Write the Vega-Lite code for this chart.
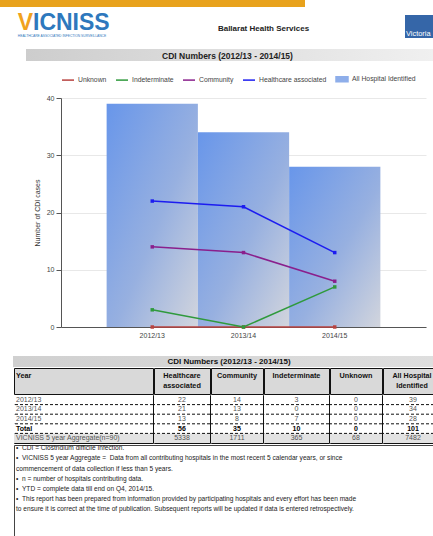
{
  "$schema": "https://vega.github.io/schema/vega-lite/v6.json",
  "background": "white",
  "padding": 0,
  "config": {"font": "Liberation Sans", "view": {"stroke": null}, "concat": {"spacing": 0}},
  "resolve": {"scale": {"color": "independent"}, "legend": {"color": "independent"}},
  "datasets": {
    "header": [
      {"part": "logoV", "label": "V"},
      {"part": "logoRest", "label": "ICNISS"},
      {"part": "tagline", "label": "HEALTHCARE ASSOCIATED INFECTION SURVEILLANCE"},
      {"part": "org", "label": "Ballarat Health Services"},
      {"part": "gov", "label": "Victoria"}
    ],
    "titles": [
      {"part": "chart", "label": "CDI Numbers (2012/13 - 2014/15)"},
      {"part": "table", "label": "CDI Numbers (2012/13 - 2014/15)"}
    ],
    "bars": [
      {"year": "2012/13", "total": 39},
      {"year": "2013/14", "total": 34},
      {"year": "2014/15", "total": 28}
    ],
    "lines": [
      {"year": "2012/13", "series": "Unknown", "value": 0},
      {"year": "2013/14", "series": "Unknown", "value": 0},
      {"year": "2014/15", "series": "Unknown", "value": 0},
      {"year": "2012/13", "series": "Indeterminate", "value": 3},
      {"year": "2013/14", "series": "Indeterminate", "value": 0},
      {"year": "2014/15", "series": "Indeterminate", "value": 7},
      {"year": "2012/13", "series": "Community", "value": 14},
      {"year": "2013/14", "series": "Community", "value": 13},
      {"year": "2014/15", "series": "Community", "value": 8},
      {"year": "2012/13", "series": "Healthcare associated", "value": 22},
      {"year": "2013/14", "series": "Healthcare associated", "value": 21},
      {"year": "2014/15", "series": "Healthcare associated", "value": 13}
    ],
    "headers": [
      {"key": "Year", "label": "Year"},
      {"key": "HCA", "label": "Healthcare\nassociated"},
      {"key": "Community", "label": "Community"},
      {"key": "Indeterminate", "label": "Indeterminate"},
      {"key": "Unknown", "label": "Unknown"},
      {"key": "All", "label": "All Hospital\nIdentified"}
    ],
    "table": [
      {"Year": "2012/13", "HCA": 22, "Community": 14, "Indeterminate": 3, "Unknown": 0, "All": 39},
      {"Year": "2013/14", "HCA": 21, "Community": 13, "Indeterminate": 0, "Unknown": 0, "All": 34},
      {"Year": "2014/15", "HCA": 13, "Community": 8, "Indeterminate": 7, "Unknown": 0, "All": 28},
      {"Year": "Total", "HCA": 56, "Community": 35, "Indeterminate": 10, "Unknown": 0, "All": 101},
      {"Year": "VICNISS 5 year Aggregate(n=90)", "HCA": 5338, "Community": 1711, "Indeterminate": 365, "Unknown": 68, "All": 7482}
    ],
    "notes": [
      {"line": 1, "text": "\u00a0\u00a0\u00a0\u00a0•\u00a0\u00a0CDI = Clostridium difficile Infection."},
      {"line": 2, "text": "\u00a0\u00a0\u00a0\u00a0•\u00a0\u00a0VICNISS 5 year Aggregate =\u00a0\u00a0Data from all contributing hospitals in the most recent 5 calendar years, or since"},
      {"line": 3, "text": "commencement of data collection if less than 5 years."},
      {"line": 4, "text": "\u00a0\u00a0\u00a0\u00a0•\u00a0\u00a0n = number of hospitals contributing data."},
      {"line": 5, "text": "\u00a0\u00a0\u00a0\u00a0•\u00a0\u00a0YTD = complete data till end on Q4, 2014/15."},
      {"line": 6, "text": "\u00a0\u00a0\u00a0\u00a0•\u00a0\u00a0This report has been prepared from information provided by participating hospitals and every effort has been made"},
      {"line": 7, "text": "to ensure it is correct at the time of publication. Subsequent reports will be updated if data is entered retrospectively."}
    ]
  },
  "spacing": 0,
  "vconcat": [
    {"width": 305, "height": 7, "data": {"values": [{}]}, "mark": {"type": "rect", "color": "#e8a21c"}},
    {
      "spacing": 0,
      "hconcat": [
        {
          "width": 122, "height": 42, "data": {"name": "header"},
          "layer": [
            {"transform": [{"filter": "datum.part === 'logoV'"}], "mark": {"type": "text", "align": "right", "baseline": "middle", "dx": -28, "dy": -5, "fontSize": 23, "fontWeight": "bold", "color": "#f0a21e", "clip": true}, "encoding": {"text": {"field": "label", "type": "nominal"}}},
            {"transform": [{"filter": "datum.part === 'logoRest'"}], "mark": {"type": "text", "align": "left", "baseline": "middle", "dx": -28, "dy": -5, "fontSize": 23, "fontWeight": "bold", "color": "#2e78bd", "clip": true}, "encoding": {"text": {"field": "label", "type": "nominal"}}},
            {"transform": [{"filter": "datum.part === 'tagline'"}], "mark": {"type": "text", "baseline": "middle", "dy": 8, "dx": 1, "fontSize": 3.3, "color": "#2e78bd", "clip": true}, "encoding": {"text": {"field": "label", "type": "nominal"}}}
          ]
        },
        {
          "width": 283, "height": 42, "data": {"name": "header"},
          "transform": [{"filter": "datum.part === 'org'"}],
          "mark": {"type": "text", "fontWeight": "bold", "fontSize": 8, "dy": 1, "color": "#222"},
          "encoding": {"text": {"field": "label", "type": "nominal"}}
        },
        {
          "spacing": 0,
          "vconcat": [
            {"width": 28, "height": 8, "data": {"values": [{}]}, "mark": {"type": "rect", "opacity": 0}},
            {
              "width": 28, "height": 23, "data": {"name": "header"},
              "transform": [{"filter": "datum.part === 'gov'"}],
              "layer": [
                {"mark": {"type": "rect", "color": "#3566a8"}},
                {"mark": {"type": "text", "align": "left", "baseline": "alphabetic", "dx": -13, "dy": 9, "fontSize": 7.4, "color": "white", "clip": true}, "encoding": {"text": {"field": "label", "type": "nominal"}}}
              ]
            }
          ]
        }
      ]
    },
    {
      "spacing": 0,
      "hconcat": [
        {"width": 26, "height": 12, "data": {"values": [{}]}, "mark": {"type": "rect", "opacity": 0}},
        {
          "width": 407, "height": 12, "data": {"name": "titles"},
          "transform": [{"filter": "datum.part === 'chart'"}],
          "layer": [
            {"mark": {"type": "rect", "color": {"gradient": "linear", "x1": 0, "y1": 0, "x2": 1, "y2": 0, "stops": [{"offset": 0, "color": "#cdcdcd"}, {"offset": 1, "color": "#f0f0f0"}]}}},
            {"mark": {"type": "text", "fontWeight": "bold", "fontSize": 8.5, "color": "#222", "dx": -2, "dy": 0.5}, "encoding": {"text": {"field": "label", "type": "nominal"}}}
          ]
        }
      ]
    },
    {"width": 1, "height": 11, "data": {"values": [{}]}, "mark": {"type": "rect", "opacity": 0}},
    {
      "spacing": 0,
      "resolve": {"scale": {"color": "independent"}, "legend": {"color": "independent"}},
      "hconcat": [
        {"width": 33, "height": 1, "data": {"values": [{}]}, "mark": {"type": "rect", "opacity": 0}},
        {
          "width": 365, "height": 229,
          "layer": [
            {
              "data": {"name": "bars"},
              "mark": {"type": "bar", "color": {"gradient": "linear", "x1": 0, "y1": 0, "x2": 1, "y2": 1, "stops": [{"offset": 0, "color": "#6896ea"}, {"offset": 0.55, "color": "#97b0e0"}, {"offset": 1, "color": "#d2d5dd"}]}},
              "encoding": {
                "x": {"field": "year", "type": "nominal", "title": null, "scale": {"paddingInner": 0, "paddingOuter": 0.5}, "axis": {"labelAngle": 0, "labelFontSize": 7, "labelColor": "#444", "ticks": false, "domainColor": "#555", "labelPadding": 4}},
                "y": {"field": "total", "type": "quantitative", "title": "Number of CDI cases", "scale": {"domain": [0, 40]}, "axis": {"values": [0, 10, 20, 30, 40], "labelFontSize": 7, "labelColor": "#444", "titleFontSize": 7, "titleFontWeight": "normal", "titleColor": "#333", "titlePadding": 6, "labelPadding": 2, "gridColor": "#e8e8e8", "domainColor": "#555", "tickColor": "#555", "tickSize": 5}}
              }
            },
            {
              "data": {"name": "lines"},
              "mark": {"type": "line", "strokeWidth": 1.5, "point": {"filled": true, "shape": "square", "size": 12}},
              "encoding": {
                "x": {"field": "year", "type": "nominal"},
                "y": {"field": "value", "type": "quantitative"},
                "color": {
                  "field": "series", "type": "nominal",
                  "scale": {"domain": ["Unknown", "Indeterminate", "Community", "Healthcare associated", "All Hospital Identified"], "range": ["#b8423f", "#2f9a3c", "#8a1f8c", "#1c1cf0", "#8eaeea"]},
                  "legend": {
                    "orient": "top", "direction": "horizontal", "title": null,
                    "labelFontSize": 6.8, "labelColor": "#444", "symbolSize": 144, "symbolStrokeWidth": 1.5,
                    "labelOffset": 3, "columnPadding": 6, "offset": 13,
                    "encode": {"symbols": {"update": {
                      "shape": {"signal": "datum.value === 'All Hospital Identified' ? 'M-1,-0.42H1V0.42H-1Z' : 'stroke'"},
                      "fill": {"signal": "datum.value === 'All Hospital Identified' ? '#8eaeea' : 'transparent'"}
                    }}}
                  }
                }
              }
            }
          ]
        }
      ]
    },
    {"width": 1, "height": 18, "data": {"values": [{}]}, "mark": {"type": "rect", "opacity": 0}},
    {
      "spacing": 0,
      "hconcat": [
        {"width": 13, "height": 11, "data": {"values": [{}]}, "mark": {"type": "rect", "opacity": 0}},
        {
          "width": 420, "height": 11, "data": {"name": "titles"},
          "transform": [{"filter": "datum.part === 'table'"}],
          "layer": [
            {"mark": {"type": "rect", "color": {"gradient": "linear", "x1": 0, "y1": 0, "x2": 1, "y2": 0, "stops": [{"offset": 0, "color": "#d0d0d0"}, {"offset": 1, "color": "#dedede"}]}}},
            {"mark": {"type": "text", "fontWeight": "bold", "fontSize": 8, "color": "#111", "dx": 6, "dy": 0.5}, "encoding": {"text": {"field": "label", "type": "nominal"}}}
          ]
        }
      ]
    },
    {
      "spacing": -2,
      "vconcat": [
        {
          "spacing": -2,
          "hconcat": [
            {"width": 14, "height": 26, "data": {"values": [{}]}, "mark": {"type": "rect", "opacity": 0}},
            {"width": 139, "height": 26, "data": {"name": "headers"}, "transform": [{"filter": "datum.key === 'Year'"}], "view": {"stroke": "#111", "fill": "#d9d9d9"}, "mark": {"type": "text", "align": "left", "baseline": "top", "dx": -67.5, "dy": -9, "fontSize": 7.3, "fontWeight": "bold", "color": "#111", "lineBreak": "\n", "lineHeight": 10}, "encoding": {"text": {"field": "label", "type": "nominal"}}},
            {"width": 56, "height": 26, "data": {"name": "headers"}, "transform": [{"filter": "datum.key === 'HCA'"}], "view": {"stroke": "#111", "fill": "#d9d9d9"}, "mark": {"type": "text", "baseline": "top", "dy": -9, "fontSize": 7.3, "fontWeight": "bold", "color": "#111", "lineBreak": "\n", "lineHeight": 10}, "encoding": {"text": {"field": "label", "type": "nominal"}}},
            {"width": 52, "height": 26, "data": {"name": "headers"}, "transform": [{"filter": "datum.key === 'Community'"}], "view": {"stroke": "#111", "fill": "#d9d9d9"}, "mark": {"type": "text", "baseline": "top", "dy": -9, "fontSize": 7.3, "fontWeight": "bold", "color": "#111", "lineBreak": "\n", "lineHeight": 10}, "encoding": {"text": {"field": "label", "type": "nominal"}}},
            {"width": 65, "height": 26, "data": {"name": "headers"}, "transform": [{"filter": "datum.key === 'Indeterminate'"}], "view": {"stroke": "#111", "fill": "#d9d9d9"}, "mark": {"type": "text", "baseline": "top", "dy": -9, "fontSize": 7.3, "fontWeight": "bold", "color": "#111", "lineBreak": "\n", "lineHeight": 10}, "encoding": {"text": {"field": "label", "type": "nominal"}}},
            {"width": 52, "height": 26, "data": {"name": "headers"}, "transform": [{"filter": "datum.key === 'Unknown'"}], "view": {"stroke": "#111", "fill": "#d9d9d9"}, "mark": {"type": "text", "baseline": "top", "dy": -9, "fontSize": 7.3, "fontWeight": "bold", "color": "#111", "lineBreak": "\n", "lineHeight": 10}, "encoding": {"text": {"field": "label", "type": "nominal"}}},
            {"width": 56, "height": 26, "data": {"name": "headers"}, "transform": [{"filter": "datum.key === 'All'"}], "view": {"stroke": "#111", "fill": "#d9d9d9"}, "mark": {"type": "text", "baseline": "top", "dy": -9, "dx": 1, "fontSize": 7.1, "fontWeight": "bold", "color": "#111", "lineBreak": "\n", "lineHeight": 10}, "encoding": {"text": {"field": "label", "type": "nominal"}}}
          ]
        },
        {
          "spacing": -2,
          "hconcat": [
            {"width": 14, "height": 48, "data": {"values": [{}]}, "mark": {"type": "rect", "opacity": 0}},
            {
              "width": 139, "height": 48, "data": {"name": "table"}, "view": {"stroke": "#111"},
              "encoding": {"y": {"field": "Year", "type": "nominal", "sort": null, "axis": null, "scale": {"domain": ["2012/13", "2013/14", "2014/15", "Total", "VICNISS 5 year Aggregate(n=90)"], "paddingInner": 0, "paddingOuter": 0}}},
              "layer": [
                {"mark": {"type": "rect"}, "encoding": {"fill": {"condition": {"test": "datum.Year === 'VICNISS 5 year Aggregate(n=90)'", "value": "#e2e2e2"}, "value": "#ffffff"}}},
                {"transform": [{"filter": "datum.Year !== '2012/13'"}], "mark": {"type": "rule", "color": "#111", "strokeWidth": 1, "strokeDash": [3, 2]}, "encoding": {"y": {"field": "Year", "type": "nominal", "bandPosition": 0}}},
                {"transform": [{"filter": "datum.Year !== 'Total'"}], "mark": {"type": "text", "align": "left", "dx": -67.5, "fontSize": 7, "color": "#555"}, "encoding": {"text": {"field": "Year", "type": "nominal"}}},
                {"transform": [{"filter": "datum.Year === 'Total'"}], "mark": {"type": "text", "align": "left", "dx": -67.5, "fontSize": 7, "fontWeight": "bold", "color": "#000"}, "encoding": {"text": {"field": "Year", "type": "nominal"}}}
              ]
            },
            {
              "width": 56, "height": 48, "data": {"name": "table"}, "view": {"stroke": "#111"},
              "encoding": {"y": {"field": "Year", "type": "nominal", "sort": null, "axis": null, "scale": {"domain": ["2012/13", "2013/14", "2014/15", "Total", "VICNISS 5 year Aggregate(n=90)"], "paddingInner": 0, "paddingOuter": 0}}},
              "layer": [
                {"mark": {"type": "rect"}, "encoding": {"fill": {"condition": {"test": "datum.Year === 'VICNISS 5 year Aggregate(n=90)'", "value": "#e2e2e2"}, "value": "#ffffff"}}},
                {"transform": [{"filter": "datum.Year !== '2012/13'"}], "mark": {"type": "rule", "color": "#111", "strokeWidth": 1, "strokeDash": [3, 2]}, "encoding": {"y": {"field": "Year", "type": "nominal", "bandPosition": 0}}},
                {"transform": [{"filter": "datum.Year !== 'Total'"}], "mark": {"type": "text", "fontSize": 7, "color": "#555"}, "encoding": {"text": {"field": "HCA", "type": "nominal"}}},
                {"transform": [{"filter": "datum.Year === 'Total'"}], "mark": {"type": "text", "fontSize": 7, "fontWeight": "bold", "color": "#000"}, "encoding": {"text": {"field": "HCA", "type": "nominal"}}}
              ]
            },
            {
              "width": 52, "height": 48, "data": {"name": "table"}, "view": {"stroke": "#111"},
              "encoding": {"y": {"field": "Year", "type": "nominal", "sort": null, "axis": null, "scale": {"domain": ["2012/13", "2013/14", "2014/15", "Total", "VICNISS 5 year Aggregate(n=90)"], "paddingInner": 0, "paddingOuter": 0}}},
              "layer": [
                {"mark": {"type": "rect"}, "encoding": {"fill": {"condition": {"test": "datum.Year === 'VICNISS 5 year Aggregate(n=90)'", "value": "#e2e2e2"}, "value": "#ffffff"}}},
                {"transform": [{"filter": "datum.Year !== '2012/13'"}], "mark": {"type": "rule", "color": "#111", "strokeWidth": 1, "strokeDash": [3, 2]}, "encoding": {"y": {"field": "Year", "type": "nominal", "bandPosition": 0}}},
                {"transform": [{"filter": "datum.Year !== 'Total'"}], "mark": {"type": "text", "fontSize": 7, "color": "#555"}, "encoding": {"text": {"field": "Community", "type": "nominal"}}},
                {"transform": [{"filter": "datum.Year === 'Total'"}], "mark": {"type": "text", "fontSize": 7, "fontWeight": "bold", "color": "#000"}, "encoding": {"text": {"field": "Community", "type": "nominal"}}}
              ]
            },
            {
              "width": 65, "height": 48, "data": {"name": "table"}, "view": {"stroke": "#111"},
              "encoding": {"y": {"field": "Year", "type": "nominal", "sort": null, "axis": null, "scale": {"domain": ["2012/13", "2013/14", "2014/15", "Total", "VICNISS 5 year Aggregate(n=90)"], "paddingInner": 0, "paddingOuter": 0}}},
              "layer": [
                {"mark": {"type": "rect"}, "encoding": {"fill": {"condition": {"test": "datum.Year === 'VICNISS 5 year Aggregate(n=90)'", "value": "#e2e2e2"}, "value": "#ffffff"}}},
                {"transform": [{"filter": "datum.Year !== '2012/13'"}], "mark": {"type": "rule", "color": "#111", "strokeWidth": 1, "strokeDash": [3, 2]}, "encoding": {"y": {"field": "Year", "type": "nominal", "bandPosition": 0}}},
                {"transform": [{"filter": "datum.Year !== 'Total'"}], "mark": {"type": "text", "fontSize": 7, "color": "#555"}, "encoding": {"text": {"field": "Indeterminate", "type": "nominal"}}},
                {"transform": [{"filter": "datum.Year === 'Total'"}], "mark": {"type": "text", "fontSize": 7, "fontWeight": "bold", "color": "#000"}, "encoding": {"text": {"field": "Indeterminate", "type": "nominal"}}}
              ]
            },
            {
              "width": 52, "height": 48, "data": {"name": "table"}, "view": {"stroke": "#111"},
              "encoding": {"y": {"field": "Year", "type": "nominal", "sort": null, "axis": null, "scale": {"domain": ["2012/13", "2013/14", "2014/15", "Total", "VICNISS 5 year Aggregate(n=90)"], "paddingInner": 0, "paddingOuter": 0}}},
              "layer": [
                {"mark": {"type": "rect"}, "encoding": {"fill": {"condition": {"test": "datum.Year === 'VICNISS 5 year Aggregate(n=90)'", "value": "#e2e2e2"}, "value": "#ffffff"}}},
                {"transform": [{"filter": "datum.Year !== '2012/13'"}], "mark": {"type": "rule", "color": "#111", "strokeWidth": 1, "strokeDash": [3, 2]}, "encoding": {"y": {"field": "Year", "type": "nominal", "bandPosition": 0}}},
                {"transform": [{"filter": "datum.Year !== 'Total'"}], "mark": {"type": "text", "fontSize": 7, "color": "#555"}, "encoding": {"text": {"field": "Unknown", "type": "nominal"}}},
                {"transform": [{"filter": "datum.Year === 'Total'"}], "mark": {"type": "text", "fontSize": 7, "fontWeight": "bold", "color": "#000"}, "encoding": {"text": {"field": "Unknown", "type": "nominal"}}}
              ]
            },
            {
              "width": 56, "height": 48, "data": {"name": "table"}, "view": {"stroke": "#111"},
              "encoding": {"y": {"field": "Year", "type": "nominal", "sort": null, "axis": null, "scale": {"domain": ["2012/13", "2013/14", "2014/15", "Total", "VICNISS 5 year Aggregate(n=90)"], "paddingInner": 0, "paddingOuter": 0}}},
              "layer": [
                {"mark": {"type": "rect"}, "encoding": {"fill": {"condition": {"test": "datum.Year === 'VICNISS 5 year Aggregate(n=90)'", "value": "#e2e2e2"}, "value": "#ffffff"}}},
                {"transform": [{"filter": "datum.Year !== '2012/13'"}], "mark": {"type": "rule", "color": "#111", "strokeWidth": 1, "strokeDash": [3, 2]}, "encoding": {"y": {"field": "Year", "type": "nominal", "bandPosition": 0}}},
                {"transform": [{"filter": "datum.Year !== 'Total'"}], "mark": {"type": "text", "fontSize": 7, "color": "#555", "dx": 2}, "encoding": {"text": {"field": "All", "type": "nominal"}}},
                {"transform": [{"filter": "datum.Year === 'Total'"}], "mark": {"type": "text", "fontSize": 7, "fontWeight": "bold", "color": "#000", "dx": 2}, "encoding": {"text": {"field": "All", "type": "nominal"}}}
              ]
            }
          ]
        }
      ]
    },
    {
      "spacing": 0,
      "hconcat": [
        {"width": 13, "height": 92, "data": {"values": [{}]}, "mark": {"type": "rect", "opacity": 0}},
        {
          "width": 419, "height": 92, "data": {"name": "notes"}, "view": {"stroke": "#444"},
          "mark": {"type": "text", "align": "left", "baseline": "middle", "dx": -207.5, "dy": -2, "fontSize": 6.6, "color": "#222"},
          "encoding": {
            "y": {"field": "line", "type": "ordinal", "axis": null, "scale": {"type": "band", "paddingInner": 0, "paddingOuter": 1.0, "align": 0}},
            "text": {"field": "text", "type": "nominal"}
          }
        }
      ]
    }
  ]
}
